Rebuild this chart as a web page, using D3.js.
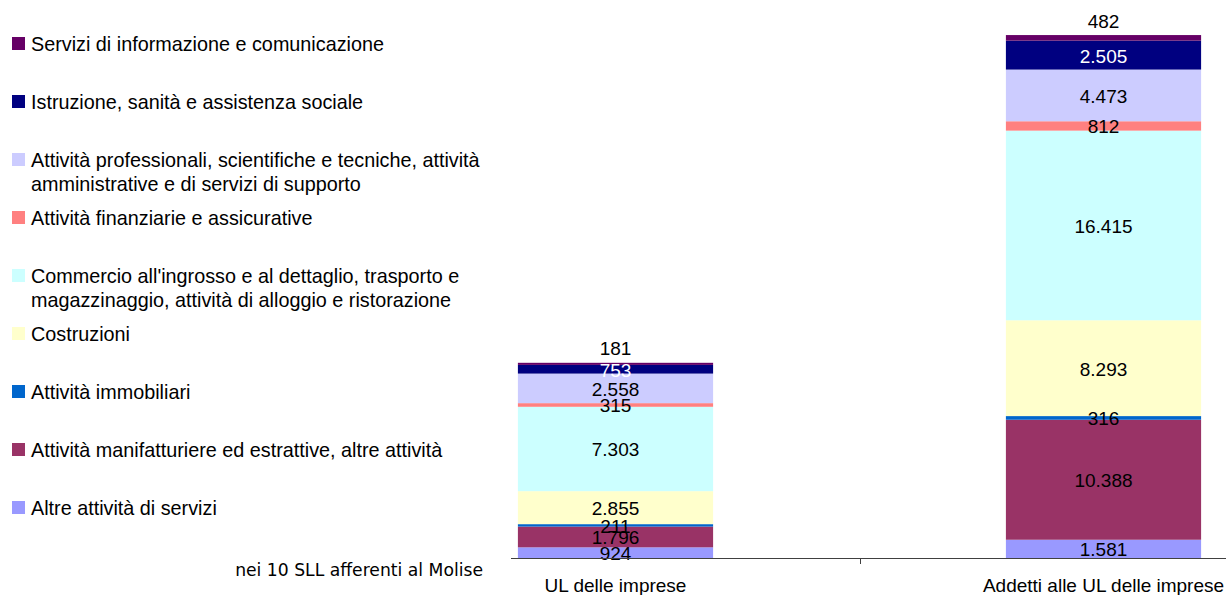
<!DOCTYPE html>
<html>
<head>
<meta charset="utf-8">
<script src="https://cdn.jsdelivr.net/npm/d3@7"></script>
<style>
  body { margin: 0; background: #fff; }
  text { font-family: "Liberation Sans", Arial, sans-serif; fill: #000; }
</style>
</head>
<body>
<div id="chart"></div>
<script>
// categories on the x axis
const categories = ['UL delle imprese', 'Addetti alle UL delle imprese'];

// series, bottom to top of the stack
const seriesNames = [
  'Altre attività di servizi',
  'Attività manifatturiere ed estrattive, altre attività',
  'Attività immobiliari',
  'Costruzioni',
  "Commercio all'ingrosso e al dettaglio, trasporto e magazzinaggio, attività di alloggio e ristorazione",
  'Attività finanziarie e assicurative',
  'Attività professionali, scientifiche e tecniche, attività amministrative e di servizi di supporto',
  'Istruzione, sanità e assistenza sociale',
  'Servizi di informazione e comunicazione'
];
const ulValues      = [924, 1796, 211, 2855, 7303, 315, 2558, 753, 181];
const addettiValues = [1581, 10388, 316, 8293, 16415, 812, 4473, 2505, 482];

const colors = ['#9999FF', '#993366', '#0066CC', '#FFFFCC', '#CCFFFF', '#FF8080', '#CCCCFF', '#000080', '#660066'];

// legend lines, top to bottom (wrapped like the original)
const legendLines = [
  ['Servizi di informazione e comunicazione'],
  ['Istruzione, sanità e assistenza sociale'],
  ['Attività professionali, scientifiche e tecniche, attività', 'amministrative e di servizi di supporto'],
  ['Attività finanziarie e assicurative'],
  ["Commercio all'ingrosso e al dettaglio, trasporto e", 'magazzinaggio, attività di alloggio e ristorazione'],
  ['Costruzioni'],
  ['Attività immobiliari'],
  ['Attività manifatturiere ed estrattive, altre attività'],
  ['Altre attività di servizi']
];

const width = 1226, height = 595;
const baseY = 558;

const svg = d3.select('#chart').append('svg')
  .attr('width', width).attr('height', height);

// build rows for the stack
const rows = categories.map(function(c, i) {
  const row = {cat: c};
  const vals = i === 0 ? ulValues : addettiValues;
  seriesNames.forEach(function(s, j) { row[s] = vals[j]; });
  return row;
});

const stack = d3.stack().keys(seriesNames)(rows);

const x = d3.scaleBand()
  .domain(categories)
  .range([371.5, 1347.5])
  .paddingInner(0.6)
  .paddingOuter(0.3);

const y = d3.scaleLinear()
  .domain([0, 48300])
  .range([baseY, 0]);

const fmt = function(v) { return d3.format(',')(v).replace(/,/g, '.'); };

const layers = svg.append('g').selectAll('g')
  .data(stack)
  .enter().append('g')
  .attr('fill', function(d, i) { return colors[i]; });

layers.selectAll('rect')
  .data(function(d) { return d; })
  .enter().append('rect')
  .attr('x', function(d) { return x(d.data.cat); })
  .attr('width', x.bandwidth())
  .attr('y', function(d) { return y(d[1]); })
  .attr('height', function(d) { return y(d[0]) - y(d[1]); });

// value labels (top series sits above the bar)
const last = seriesNames.length - 1;
stack.forEach(function(layer, i) {
  svg.append('g').selectAll('text')
    .data(layer)
    .enter().append('text')
    .attr('x', function(d) { return x(d.data.cat) + x.bandwidth() / 2; })
    .attr('y', function(d) {
      if (i === last) return y(d[1]) - 14;
      return (y(d[0]) + y(d[1])) / 2 + 1;
    })
    .attr('text-anchor', 'middle')
    .attr('dominant-baseline', 'central')
    .style('font-size', '19px')
    .style('fill', i === 7 ? '#fff' : '#000')
    .text(function(d) { return fmt(d[1] - d[0]); });
});

// x axis line and the tick between the two categories
svg.append('line')
  .attr('x1', 511).attr('x2', width)
  .attr('y1', baseY + 0.5).attr('y2', baseY + 0.5)
  .attr('stroke', '#404040').attr('stroke-width', 1);

const mid = x(categories[0]) + x.bandwidth() + x.step() * x.paddingInner() / 2;
svg.append('line')
  .attr('x1', Math.round(mid) + 0.5).attr('x2', Math.round(mid) + 0.5)
  .attr('y1', baseY).attr('y2', baseY + 6)
  .attr('stroke', '#404040');

svg.append('g').selectAll('text')
  .data(categories)
  .enter().append('text')
  .attr('x', function(d) { return x(d) + x.bandwidth() / 2; })
  .attr('y', 585)
  .attr('text-anchor', 'middle')
  .attr('dominant-baseline', 'central')
  .style('font-size', '19px')
  .text(function(d) { return d; });

// legend
const legendColors = colors.slice().reverse();
const leg = svg.append('g');
legendLines.forEach(function(lines, i) {
  const cy = 44 + i * 58;
  leg.append('rect')
    .attr('x', 12).attr('y', cy - 7)
    .attr('width', 13).attr('height', 13)
    .attr('fill', legendColors[i]);
  lines.forEach(function(t, k) {
    leg.append('text')
      .attr('x', 31).attr('y', cy + k * 24)
      .attr('dominant-baseline', 'central')
      .style('font-size', '19.8px')
      .text(t);
  });
});

svg.append('text')
  .attr('x', 483).attr('y', 570)
  .attr('text-anchor', 'end')
  .attr('dominant-baseline', 'central')
  .style('font-family', '"DejaVu Sans", sans-serif')
  .style('font-size', '17.2px')
  .text('nei 10 SLL afferenti al Molise');
</script>
</body>
</html>
